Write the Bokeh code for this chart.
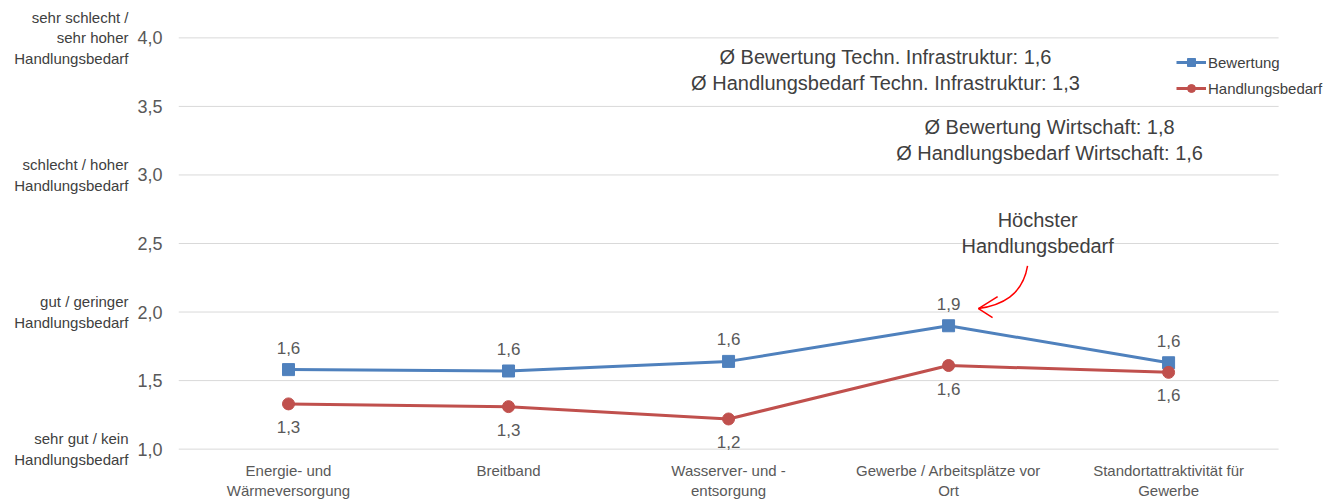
from bokeh.plotting import figure
from bokeh.models import Range1d, FixedTicker, LinearAxis, Legend, LegendItem
from bokeh.embed import file_html
from bokeh.resources import INLINE
from bokeh.core.properties import value

# ---------------- data ----------------
categories = [
    "Energie- und\nWärmeversorgung",
    "Breitband",
    "Wasserver- und -\nentsorgung",
    "Gewerbe / Arbeitsplätze vor\nOrt",
    "Standortattraktivität für\nGewerbe",
]
bewertung = [1.58, 1.57, 1.64, 1.90, 1.63]
handlungsbedarf = [1.33, 1.31, 1.22, 1.61, 1.56]

y_ticks = [1.0, 1.5, 2.0, 2.5, 3.0, 3.5, 4.0]
y_tick_labels = ["1,0", "1,5", "2,0", "2,5", "3,0", "3,5", "4,0"]
scale_ticks = [1, 2, 3, 4]
scale_labels = [
    "sehr gut / kein\nHandlungsbedarf",
    "gut / geringer\nHandlungsbedarf",
    "schlecht / hoher\nHandlungsbedarf",
    "sehr schlecht /\nsehr hoher\nHandlungsbedarf",
]
series_names = ["Bewertung", "Handlungsbedarf"]
annotations = [
    "Ø Bewertung Techn. Infrastruktur: 1,6\nØ Handlungsbedarf Techn. Infrastruktur: 1,3",
    "Ø Bewertung Wirtschaft: 1,8\nØ Handlungsbedarf Wirtschaft: 1,6",
    "Höchster\nHandlungsbedarf",
]

# ---------------- style ----------------
FONT = value("Liberation Sans")
BLUE = "#4F81BD"
RED = "#C0504D"
GREY_TXT = "#595959"
DARK_TXT = "#404040"
GRID = "#D9D9D9"

n = len(categories)
xs = [i + 0.5 for i in range(n)]
fmt = lambda v: f"{v:.1f}".replace(".", ",")

p = figure(
    width=1332, height=501,
    x_range=Range1d(0, n + 0.245), y_range=Range1d(0.99, 4.01),
    output_backend="svg", toolbar_location=None,
    min_border_left=178, min_border_right=0,
    min_border_top=36, min_border_bottom=51,
)
p.outline_line_color = None
p.background_fill_color = None
p.border_fill_color = "white"

# axes
p.xaxis.ticker = FixedTicker(ticks=xs)
p.xaxis.major_label_overrides = {x: c for x, c in zip(xs, categories)}
p.xaxis.axis_line_color = None
p.xaxis.major_tick_line_color = None
p.xaxis.minor_tick_line_color = None
p.xaxis.major_label_standoff = 5
p.xaxis.major_label_text_font = "Liberation Sans"
p.xaxis.major_label_text_font_size = "15px"
p.xaxis.major_label_text_color = GREY_TXT

p.yaxis.ticker = FixedTicker(ticks=y_ticks)
p.yaxis.major_label_overrides = {t: l for t, l in zip(y_ticks, y_tick_labels)}
p.yaxis.axis_line_color = None
p.yaxis.major_tick_line_color = None
p.yaxis.minor_tick_line_color = None
p.yaxis.major_label_standoff = 10
p.yaxis.major_label_text_font = "Liberation Sans"
p.yaxis.major_label_text_font_size = "18px"
p.yaxis.major_label_text_color = GREY_TXT

scale_axis = LinearAxis(
    ticker=FixedTicker(ticks=scale_ticks),
    major_label_overrides={t: l for t, l in zip(scale_ticks, scale_labels)},
    axis_line_color=None, major_tick_line_color=None, minor_tick_line_color=None,
    major_label_standoff=0,
    major_label_text_font="Liberation Sans", major_label_text_font_size="15px",
    major_label_text_color=DARK_TXT,
)
p.add_layout(scale_axis, "left")

# horizontal gridlines spanning only the category area
p.xgrid.grid_line_color = None
p.ygrid.grid_line_color = None
p.segment(x0=[0] * len(y_ticks), x1=[n] * len(y_ticks), y0=y_ticks, y1=y_ticks,
          line_color=GRID, line_width=1)

# series
bl = p.line(xs, bewertung, line_color=BLUE, line_width=3)
bs = p.scatter(xs, bewertung, marker="square", size=12, fill_color=BLUE, line_color=BLUE)
rl = p.line(xs, handlungsbedarf, line_color=RED, line_width=3)
rs = p.scatter(xs, handlungsbedarf, marker="circle", size=12, fill_color=RED, line_color=RED)

# data labels
p.text(xs, bewertung, text=[fmt(v) for v in bewertung], text_align="center",
       text_baseline="middle", y_offset=-22, text_font=FONT,
       text_font_size="17px", text_color=GREY_TXT)
p.text(xs, handlungsbedarf, text=[fmt(v) for v in handlungsbedarf], text_align="center",
       text_baseline="middle", y_offset=23, text_font=FONT,
       text_font_size="17px", text_color=GREY_TXT)

# annotations
p.text([3.214, 3.959, 3.905], [3.765, 3.253, 2.578], text=annotations,
       text_align="center", text_baseline="middle", text_font=FONT,
       text_font_size="20px", text_color=DARK_TXT, text_line_height=1.2)

# red arrow
p.bezier(x0=[3.859], y0=[2.336], x1=[3.636], y1=[2.025],
         cx0=[3.836], cy0=[2.12], cx1=[3.74], cy1=[2.05],
         line_color="#FF0000", line_width=1.5)
p.multi_line(xs=[[3.723, 3.636, 3.700]], ys=[[2.112, 2.025, 1.960]],
             line_color="#FF0000", line_width=1.5)

# legend
legend = Legend(
    items=[LegendItem(label=series_names[0], renderers=[bl, bs]),
           LegendItem(label=series_names[1], renderers=[rl, rs])],
    location=(998, 352),
    glyph_width=30, glyph_height=20, label_standoff=2, spacing=6,
    padding=0, margin=0,
    background_fill_alpha=0, border_line_color=None,
    label_text_font="Liberation Sans", label_text_font_size="15px",
    label_text_color=DARK_TXT,
)
p.add_layout(legend)

open("out.html", "w").write(file_html(p, INLINE))
